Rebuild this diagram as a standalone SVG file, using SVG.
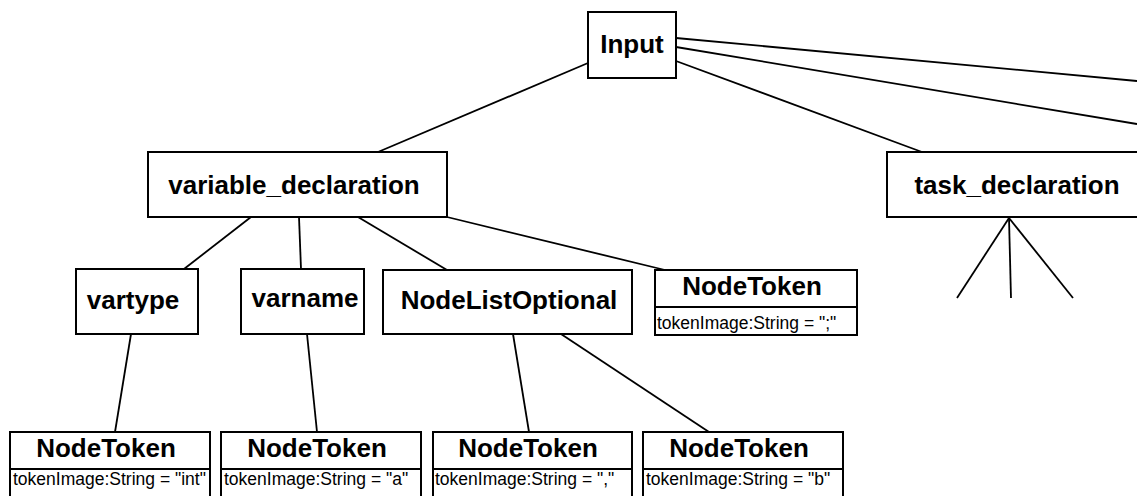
<svg xmlns="http://www.w3.org/2000/svg" width="1137" height="496" viewBox="0 0 1137 496">
<style>
.box{fill:#fff;stroke:#000;stroke-width:2}
.edge{stroke:#000;stroke-width:1.8;fill:none}
.t{font-family:"Liberation Sans",Arial,sans-serif;font-weight:bold;font-size:26px;fill:#000}
.a{font-family:"Liberation Sans",Arial,sans-serif;font-size:17.5px;fill:#000}
</style>
<rect width="1137" height="496" fill="#fff"/>
<g id="connectors">
<line class="edge" x1="588" y1="63" x2="378" y2="152"/>
<line class="edge" x1="676" y1="38" x2="1137" y2="81"/>
<line class="edge" x1="676" y1="47" x2="1137" y2="124"/>
<line class="edge" x1="676" y1="61" x2="922" y2="152"/>
<line class="edge" x1="251" y1="217" x2="184" y2="269"/>
<line class="edge" x1="299" y1="217" x2="301" y2="269"/>
<line class="edge" x1="358" y1="217" x2="447" y2="270"/>
<line class="edge" x1="447" y1="217" x2="665" y2="270"/>
<line class="edge" x1="131" y1="334" x2="115" y2="432"/>
<line class="edge" x1="307" y1="334" x2="317" y2="432"/>
<line class="edge" x1="513" y1="334" x2="529" y2="432"/>
<line class="edge" x1="561" y1="334" x2="709" y2="432"/>
<line class="edge" x1="1009" y1="218" x2="957" y2="298"/>
<line class="edge" x1="1009" y1="218" x2="1011" y2="298"/>
<line class="edge" x1="1009" y1="218" x2="1073" y2="298"/>
</g>
<g id="input">
<rect class="box" x="588" y="12" width="88" height="66"/>
<text class="t" x="632" y="53" text-anchor="middle">Input</text>
</g>
<g id="variable_declaration">
<rect class="box" x="148" y="152" width="299" height="65"/>
<text class="t" x="294" y="194" text-anchor="middle">variable_declaration</text>
</g>
<g id="task_declaration">
<rect class="box" x="887" y="152" width="260" height="65"/>
<text class="t" x="1017" y="194" text-anchor="middle">task_declaration</text>
</g>
<g id="vartype">
<rect class="box" x="76" y="269" width="122" height="65"/>
<text class="t" x="133" y="309" text-anchor="middle">vartype</text>
</g>
<g id="varname">
<rect class="box" x="241" y="269" width="123" height="65"/>
<text class="t" x="305" y="307" text-anchor="middle">varname</text>
</g>
<g id="nodelistoptional">
<rect class="box" x="383" y="270" width="249" height="64"/>
<text class="t" x="509" y="309" text-anchor="middle">NodeListOptional</text>
</g>
<g id="token_semicolon">
<rect class="box" x="655" y="270" width="202" height="65"/>
<line class="box" x1="655" y1="307" x2="857" y2="307"/>
<text class="t" x="752" y="295" text-anchor="middle">NodeToken</text>
<text class="a" x="657" y="329">tokenImage:String = ";"</text>
</g>
<g id="token_int">
<rect class="box" x="10" y="432" width="200" height="66"/>
<line class="box" x1="10" y1="469" x2="210" y2="469"/>
<text class="t" x="106" y="457" text-anchor="middle">NodeToken</text>
<text class="a" x="13" y="485">tokenImage:String = "int"</text>
</g>
<g id="token_a">
<rect class="box" x="221" y="432" width="200" height="66"/>
<line class="box" x1="221" y1="469" x2="421" y2="469"/>
<text class="t" x="317" y="457" text-anchor="middle">NodeToken</text>
<text class="a" x="224" y="485">tokenImage:String = "a"</text>
</g>
<g id="token_comma">
<rect class="box" x="433" y="432" width="199" height="66"/>
<line class="box" x1="433" y1="469" x2="632" y2="469"/>
<text class="t" x="528" y="457" text-anchor="middle">NodeToken</text>
<text class="a" x="435" y="485">tokenImage:String = ","</text>
</g>
<g id="token_b">
<rect class="box" x="643" y="432" width="200" height="66"/>
<line class="box" x1="643" y1="469" x2="843" y2="469"/>
<text class="t" x="739" y="457" text-anchor="middle">NodeToken</text>
<text class="a" x="646" y="485">tokenImage:String = "b"</text>
</g>
</svg>
